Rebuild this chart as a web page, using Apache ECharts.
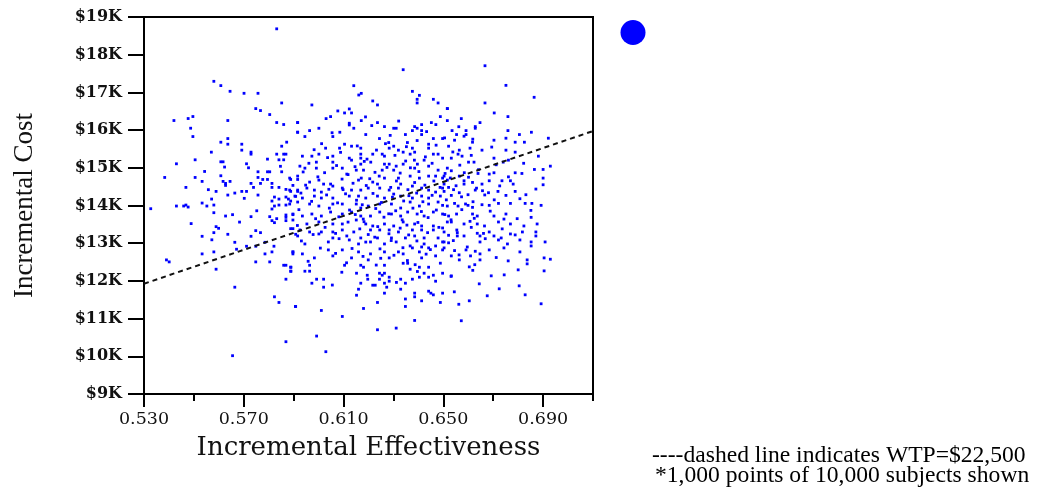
<!DOCTYPE html>
<html>
<head>
<meta charset="utf-8">
<script src="https://cdn.jsdelivr.net/npm/echarts@6/dist/echarts.min.js"></script>
<style>
html,body{margin:0;padding:0;background:#fff;}
#chart{width:1051px;height:496px;}
</style>
</head>
<body>
<div id="chart"></div>
<script>
// Tick labels
const xMajorTicks = [0.53, 0.57, 0.61, 0.65, 0.69];
const xMinorTicks = [0.55, 0.59, 0.63, 0.67, 0.71];
const yTicks = [9000, 10000, 11000, 12000, 13000, 14000, 15000, 16000, 17000, 18000, 19000];
// Willingness-to-pay line
const wtpValue = 22500;
const wtpLineEffectiveness = [0.53, 0.71];
// Simulated points [incremental effectiveness, incremental cost]
const simulatedPoints = [
[0.5832,18686],[0.558,17294],[0.5608,17180],[0.5645,17029],[0.5701,16976],[0.5757,16976],[0.5852,16720],[0.5748,16571],[0.5767,16518],[0.5804,16412],[0.5832,16201],[0.586,16148],[0.5916,16201],[0.5916,15944],[0.542,16254],[0.5477,16307],[0.5496,16360],[0.5636,16254],[0.5487,16050],
[0.6339,17602],[0.6141,17178],[0.6161,16931],[0.6171,16975],[0.6217,16773],[0.6236,16667],[0.6376,17028],[0.6404,16922],[0.6395,16817],[0.6395,16720],[0.646,16817],[0.6479,16720],[0.6516,16570],[0.5973,16667],[0.5916,16199],[0.603,16305],[0.6048,16358],[0.6077,16508],[0.6104,16455],[0.6123,16561],[0.6132,16455],[0.6171,16252],[0.6123,16182],[0.6123,16137],[0.6141,16049],[0.6236,16199],[0.6264,16093],[0.6301,16049],[0.6311,16049],[0.6376,15987],[0.6385,16093],[0.6395,16049],[0.6413,16146],[0.6413,15987],[0.6452,16199],[0.647,16146],[0.6488,16358],[0.6516,16252],[0.5916,15943],[0.5964,15987],[0.6001,16049],[0.6085,15943],[0.6189,15882],[0.6348,15882],[0.6413,15882],
[0.6667,17707],[0.6751,17187],[0.6864,16870],[0.6667,16720],[0.6516,16570],[0.6704,16455],[0.6759,16358],[0.6572,16305],[0.6647,16199],[0.6628,16093],[0.6628,16049],[0.6535,15987],[0.6553,15882],[0.6591,15987],[0.6591,15882],[0.6583,15838],[0.6759,15987],[0.6805,15882],[0.6853,15943],[0.6505,15793],
[0.5496,15829],[0.5608,15679],[0.5636,15776],[0.5636,15626],[0.5692,15626],[0.5692,15468],[0.5729,15415],[0.5729,15362],[0.557,15415],[0.5852,15573],[0.5832,15362],[0.586,15362],[0.5869,15362],[0.5505,15212],[0.543,15106],[0.5608,15159],[0.5617,15159],[0.5711,15106],[0.5719,15000],[0.5841,15212],[0.586,15212],[0.5543,14903],[0.5608,14789],[0.5383,14744],[0.5505,14744],[0.5533,14639],[0.5617,14639],[0.5627,14586],[0.5627,14533],[0.5645,14639],[0.5468,14480],[0.5589,14374],[0.5636,14277],[0.5664,14330],[0.5692,14374],[0.5711,14374],[0.5739,14480],[0.5757,14277],[0.5729,14586],[0.5757,14744],[0.5757,14894],[0.5795,14894],[0.5804,14894],[0.5776,14691],[0.5795,14691],[0.5767,14586],[0.5813,14586],[0.5813,14480],[0.5852,14894],[0.5888,14691],[0.5841,14480],[0.5869,14427],[0.5897,14533],[0.5916,14691],[0.5888,14374],[0.5916,14374],[0.5908,14242],[0.5823,14224],[0.5841,14171],[0.5869,14224],[0.5879,14171],[0.5813,14118],[0.5823,13986],[0.5841,14012],[0.5813,13907],[0.5869,14012],[0.5888,14118],[0.5571,14171],[0.5533,14065],[0.5552,13986],[0.558,14012],[0.543,13986],[0.5459,13986],[0.5468,14012],[0.5477,13959],[0.5327,13915],[0.558,13809],[0.5627,13721],[0.5655,13757],[0.5729,13704],[0.5804,13704],[0.5813,13598],[0.5823,13545],[0.5869,13748],[0.5869,13686],[0.5897,13757],[0.5832,13651],[0.5869,13598],[0.5589,13439],[0.5599,13395],[0.558,13280],[0.5636,13236],[0.5748,13333],[0.5729,13183],[0.5767,13280],[0.5533,13183],[0.5908,13236],[0.5888,13386],[0.5897,13386],[0.5664,13024],[0.5711,12919],[0.5748,12919],[0.5785,13024],[0.5533,12716],[0.558,12769],[0.5785,12716],[0.5813,12769],[0.5897,12769],[0.5897,12716],[0.539,12557],[0.5401,12504],[0.5748,12504],[0.5804,12504],
[0.5589,12310],[0.586,12415],[0.5869,12415],[0.5888,12363],[0.5888,12257],[0.5869,12045],[0.5664,11833],[0.5823,11578],[0.5841,11428],[0.5907,11322],[0.5869,10387],[0.5655,10016],
[0.5964,12415],[0.5889,12363],[0.5889,12257],[0.5945,12257],[0.5964,12257],[0.5992,12045],[0.602,12045],[0.5973,11939],[0.602,11833],[0.6104,12415],[0.6169,12415],[0.618,12363],[0.6152,12204],[0.6264,12415],[0.6339,12468],[0.6357,12468],[0.6367,12310],[0.6404,12363],[0.6441,12363],[0.6423,12204],[0.6441,12098],[0.646,12151],[0.6497,12204],[0.6469,11992],[0.6404,12098],[0.6376,12045],[0.6329,12045],[0.6348,11939],[0.6329,11780],[0.6244,12204],[0.6255,12151],[0.6264,12204],[0.6283,12098],[0.6283,11992],[0.6244,12045],[0.6264,11939],[0.6273,11833],[0.6197,12045],[0.6169,11939],[0.6217,11886],[0.6227,11886],[0.616,11780],[0.6264,11675],[0.6385,11675],[0.6385,11578],[0.6441,11727],[0.645,11675],[0.646,11630],[0.6497,11675],[0.6488,11428],[0.6413,11472],[0.6236,11428],[0.6348,11322],[0.618,11269],[0.5908,11322],[0.6011,11216],[0.6095,11057],[0.6385,10951],[0.6236,10704],[0.6311,10748],[0.5992,10537],[0.6029,10122],
[0.5945,15829],[0.6057,15829],[0.6244,15776],[0.6395,15723],[0.646,15776],[0.6497,15776],[0.6281,15670],[0.6356,15670],[0.6301,15573],[0.6028,15521],[0.6084,15521],[0.6104,15626],[0.6132,15573],[0.6169,15521],[0.6283,15521],[0.632,15468],[0.6339,15415],[0.6376,15521],[0.6385,15415],[0.6441,15521],[0.6441,15626],[0.5935,15309],[0.5973,15309],[0.6001,15362],[0.6057,15309],[0.6123,15256],[0.6169,15362],[0.6169,15256],[0.6217,15362],[0.6255,15362],[0.6264,15309],[0.6367,15362],[0.646,15362],[0.6479,15362],[0.6497,15256],[0.6384,15203],[0.5991,15150],[0.6057,15150],[0.6132,15203],[0.6169,15097],[0.6209,15150],[0.6264,15097],[0.6283,15097],[0.6311,15044],[0.6339,15097],[0.6396,15097],[0.6423,15203],[0.5925,15044],[0.5945,14991],[0.5991,14991],[0.6057,14991],[0.6095,14991],[0.6151,14938],[0.618,14938],[0.6255,14938],[0.6301,14938],[0.6385,14991],[0.6441,15044],[0.6479,14938],[0.6516,14991],
[0.5884,14727],[0.5916,14780],[0.5964,14621],[0.6001,14674],[0.602,14568],[0.6048,14568],[0.6113,14833],[0.616,14674],[0.6171,14727],[0.6217,14621],[0.6236,14568],[0.6264,14727],[0.632,14727],[0.6329,14568],[0.6367,14780],[0.6404,14727],[0.6441,14780],[0.6469,14780],[0.6497,14727],[0.6516,14674],[0.5884,14409],[0.5916,14409],[0.5953,14462],[0.5983,14409],[0.6011,14356],[0.6057,14515],[0.6095,14462],[0.6132,14409],[0.6169,14409],[0.6199,14462],[0.6245,14462],[0.6283,14409],[0.632,14462],[0.6376,14515],[0.6413,14462],[0.6441,14409],[0.6469,14356],[0.6497,14462],
[0.5905,14250],[0.5935,14198],[0.5983,14250],[0.6011,14198],[0.6057,14198],[0.6123,14250],[0.616,14250],[0.6189,14198],[0.6236,14250],[0.6264,14198],[0.6301,14303],[0.6329,14250],[0.6376,14198],[0.6413,14250],[0.6441,14198],[0.6488,14250],[0.5884,14039],[0.5916,14092],[0.5964,14039],[0.6001,13986],[0.6057,14039],[0.6095,14039],[0.6151,14039],[0.6169,13933],[0.6199,13986],[0.6245,14039],[0.6292,14039],[0.6329,13933],[0.6367,14092],[0.6404,13986],[0.6441,14039],[0.6479,14092],[0.6516,13986],
[0.5897,13774],[0.5935,13721],[0.5973,13774],[0.6011,13721],[0.6048,13827],[0.6095,13774],[0.6132,13827],[0.6169,13721],[0.6208,13721],[0.6245,13827],[0.6292,13774],[0.6329,13721],[0.6357,13827],[0.6395,13774],[0.6423,13721],[0.646,13827],[0.6497,13774],[0.5897,13615],[0.5953,13510],[0.6001,13563],[0.6057,13510],[0.6095,13510],[0.6151,13615],[0.6189,13510],[0.6217,13457],[0.6264,13510],[0.6301,13457],[0.6339,13563],[0.6385,13510],[0.6413,13457],[0.646,13457],[0.6516,13563],
[0.5925,13351],[0.5964,13298],[0.6011,13298],[0.6057,13298],[0.6095,13351],[0.6141,13298],[0.6208,13351],[0.6245,13351],[0.6283,13351],[0.632,13298],[0.6376,13351],[0.6413,13351],[0.646,13351],[0.6497,13404],[0.5916,13192],[0.6001,13245],[0.6057,13139],[0.6113,13192],[0.6169,13139],[0.6236,13139],[0.6292,13139],[0.6348,13139],[0.6385,13192],[0.6423,13139],[0.6479,13139],[0.5945,12980],[0.6039,13033],[0.6123,13086],[0.616,12980],[0.6208,13033],[0.6264,12980],[0.6311,13033],[0.6367,12927],[0.6423,12980],[0.6469,12927],[0.6497,13033],
[0.5897,12769],[0.5935,12716],[0.6039,12822],[0.6095,12822],[0.616,12769],[0.6208,12716],[0.6264,12769],[0.632,12769],[0.6376,12875],[0.6404,12769],[0.6441,12875],[0.6497,12822],[0.5983,12610],[0.6057,12663],[0.6132,12610],[0.6199,12557],[0.6283,12610],[0.6339,12716],[0.6413,12610],[0.6469,12663],
[0.6545,15732],[0.6617,15679],[0.6703,15732],[0.6751,15785],[0.6788,15679],[0.6825,15679],[0.6921,15785],[0.6521,15573],[0.6564,15468],[0.6607,15521],[0.6655,15468],[0.6559,15362],[0.6532,15256],[0.6575,15309],[0.6751,15468],[0.6788,15415],[0.6881,15309],[0.6601,15150],[0.6623,15150],[0.6703,15256],[0.674,15150],[0.6761,15203],
[0.6503,14780],[0.6532,14921],[0.6564,14780],[0.6639,14850],[0.6684,14833],[0.6703,14868],[0.6788,14868],[0.6815,14850],[0.6865,14956],[0.69,14956],[0.6929,15044],[0.6503,14568],[0.6521,14480],[0.6551,14524],[0.6583,14656],[0.6583,14568],[0.6617,14612],[0.6655,14568],[0.6684,14656],[0.6735,14656],[0.6769,14656],[0.678,14568],[0.69,14727],[0.69,14550],[0.6871,14436],
[0.6503,14374],[0.6532,14268],[0.6564,14339],[0.6599,14286],[0.6628,14409],[0.6657,14392],[0.6681,14339],[0.6719,14374],[0.6751,14268],[0.6788,14374],[0.6831,14286],[0.6497,14004],[0.6545,14056],[0.6559,13986],[0.6599,14004],[0.6617,13951],[0.6655,14021],[0.6684,14004],[0.6721,14056],[0.6769,14056],[0.6828,14056],[0.6855,14056],[0.6892,14004],
[0.6521,13721],[0.6553,13774],[0.6617,13774],[0.6636,13721],[0.6703,13721],[0.6751,13774],[0.6796,13651],[0.6852,13686],[0.6876,13510],[0.6532,13563],[0.6583,13510],[0.6607,13580],[0.6636,13510],[0.6665,13457],[0.6721,13563],[0.6769,13510],[0.6823,13457],
[0.6503,13298],[0.6521,13210],[0.6556,13280],[0.6556,13192],[0.6583,13192],[0.6636,13263],[0.6647,13192],[0.6684,13298],[0.6703,13192],[0.6769,13245],[0.6817,13298],[0.6871,13298],[0.6871,13192],[0.6503,13033],[0.654,13069],[0.6647,13033],[0.6721,13086],[0.6732,13139],[0.6807,13086],[0.6852,13033],[0.6908,13033],
[0.6503,12875],[0.6545,12804],[0.6591,12822],[0.6628,12786],[0.6684,12822],[0.6743,12875],[0.6807,12769],[0.6852,12927],[0.6532,12663],[0.6609,12663],[0.6647,12716],[0.6647,12557],[0.6836,12557],[0.6929,12575],
[0.6564,12557],[0.6604,12372],[0.6532,12134],[0.6644,11922],[0.6692,12134],[0.6744,12160],[0.68,12293],[0.676,12531],[0.6836,12452],[0.6904,12610],[0.6904,12266],[0.6804,11869],[0.6828,11631],[0.6892,11393],[0.6572,10943],[0.6724,11790],[0.6676,11605],[0.6604,11472],[0.6544,11710],
[0.6012,15640],[0.6088,15410],[0.6155,15580],[0.6232,15470],[0.6306,15330],[0.6352,15560],[0.6428,15290],[0.6471,15600],[0.6538,15420],[0.6612,15330],[0.6694,15550],[0.6036,15270],[0.5982,15480],[0.6194,15230],[0.6268,15640],
[0.5961,15120],[0.6024,14870],[0.6072,15060],[0.6118,14820],[0.6183,15170],[0.6226,14880],[0.6274,15010],[0.6327,14860],[0.6349,15180],[0.6402,14900],[0.6455,15120],[0.6507,14850],[0.6566,15070],[0.6641,14950],[0.6712,15080],[0.5938,14890],[0.6146,15030],[0.6368,15000],[0.6584,14870],[0.6822,15120],
[0.5948,14540],[0.5997,14760],[0.6041,14430],[0.6094,14700],[0.6138,14590],[0.6191,14530],[0.6243,14780],[0.6289,14480],[0.6312,14650],[0.6358,14420],[0.6385,14610],[0.6426,14540],[0.6462,14650],[0.6528,14730],[0.6541,14420],[0.6601,14750],[0.6633,14460],[0.6726,14520],[0.6098,14420],[0.6205,14710],[0.6487,14480],[0.6761,14760],
[0.5929,14330],[0.5972,14110],[0.6032,14280],[0.6076,14070],[0.6108,14310],[0.6152,14140],[0.6218,14320],[0.6252,14080],[0.6296,14220],[0.6341,14120],[0.6393,14330],[0.6418,14100],[0.6455,14270],[0.6512,14150],[0.6573,14230],[0.6619,14100],[0.6666,14280],[0.6704,14150],[0.6175,14020],[0.6362,14260],[0.6589,14040],[0.6807,14180],
[0.5921,13890],[0.5988,13650],[0.6043,13930],[0.6081,13700],[0.6124,13880],[0.6179,13640],[0.6229,13920],[0.6262,13690],[0.6309,13860],[0.6335,13620],[0.6378,13930],[0.6439,13680],[0.6472,13880],[0.6531,13620],[0.6574,13890],[0.6624,13660],[0.6688,13850],[0.6743,13640],[0.6851,13870],[0.6147,13760],[0.6281,13780],[0.6412,13840],[0.6506,13760],
[0.5915,13470],[0.5978,13230],[0.6026,13420],[0.6068,13260],[0.6118,13560],[0.6165,13380],[0.6199,13230],[0.6237,13440],[0.6282,13250],[0.6327,13400],[0.6361,13220],[0.6398,13550],[0.6437,13280],[0.6482,13420],[0.6554,13350],[0.6612,13420],[0.6661,13260],[0.6736,13380],[0.6788,13220],[0.6182,13570],[0.6354,13480],
[0.5931,13060],[0.6007,12870],[0.6082,13120],[0.6134,12860],[0.6189,13030],[0.6246,12850],[0.6291,13070],[0.6338,12880],[0.6394,13060],[0.6448,12830],[0.6521,13010],[0.6596,12900],[0.6668,13120],[0.6757,12980],[0.6225,13160],[0.6413,12900],
[0.5958,12520],[0.6068,12730],[0.6112,12480],[0.6178,12650],[0.6231,12420],[0.6302,12680],[0.6356,12540],[0.6431,12710],[0.6488,12470],[0.6563,12690],[0.6626,12430],[0.6712,12620],[0.6249,12600],[0.6387,12430],
[0.6054,15930],[0.6213,16120],[0.6287,15860],[0.6433,15960],[0.6562,16090],[0.6188,16350],[0.6321,16240],[0.6618,15760],[0.5872,15680],[0.5847,15040],
[0.6093,12230],[0.6195,12150],[0.6312,11960],[0.6396,12250],[0.6531,12120],[0.6618,12280],[0.6152,11620],[0.6348,11520],[0.6055,11890],[0.6562,11380],
[0.5702,14190],[0.5752,13860],[0.5683,13560],[0.5795,15230],[0.5623,15020],[0.5558,14420],[0.5671,12840],[0.5821,12920],[0.5489,13520],[0.5572,13090]
];

const chart = echarts.init(document.getElementById('chart'), null, {renderer: 'canvas'});
const wtpLine = wtpLineEffectiveness.map(e => [e, e * wtpValue]);

const option = {
  backgroundColor: '#ffffff',
  animation: false,
  grid: {left: 144, top: 17, width: 449, height: 377, show: true, borderColor: '#000', borderWidth: 2, backgroundColor: 'transparent', containLabel: false, outerBoundsMode: 'none'},
  legend: {
    show: true, data: ['Simulated'], left: 615, top: 15, icon: 'circle', itemWidth: 26, itemHeight: 25,
    formatter: () => '', selectedMode: false, itemGap: 0,
    itemStyle: {color: '#0000ff', opacity: 1}
  },
  xAxis: [
    {
      type: 'value', min: 0.53, max: 0.71, position: 'bottom',
      name: 'Incremental Effectiveness', nameLocation: 'middle', nameGap: 41,
      nameTextStyle: {fontFamily: 'DejaVu Serif', fontSize: 26, color: '#111'},
      axisLine: {show: true, onZero: false, lineStyle: {color: '#000', width: 2}},
      axisTick: {show: true, length: 13, customValues: xMajorTicks, lineStyle: {color: '#000', width: 2}},
      axisLabel: {show: true, customValues: xMajorTicks, margin: 16, formatter: v => v.toFixed(3), fontFamily: 'DejaVu Serif', fontSize: 17.5, color: '#111'},
      splitLine: {show: false}
    },
    {
      type: 'value', min: 0.53, max: 0.71, position: 'bottom', gridIndex: 0,
      axisLine: {show: false, onZero: false},
      axisTick: {show: true, length: 7, customValues: xMinorTicks, lineStyle: {color: '#000', width: 2}},
      axisLabel: {show: false},
      splitLine: {show: false}
    }
  ],
  yAxis: {
    type: 'value', min: 9000, max: 19000, interval: 1000,
    name: 'Incremental Cost', nameLocation: 'middle', nameGap: 106, nameRotate: 90,
    nameTextStyle: {fontFamily: 'Liberation Serif', fontSize: 27, color: '#111'},
    axisLine: {show: true, onZero: false, lineStyle: {color: '#000', width: 2}},
    axisTick: {show: true, length: 16, customValues: yTicks, lineStyle: {color: '#000', width: 2}},
    axisLabel: {show: true, customValues: yTicks, margin: 22, formatter: v => '$' + Math.round(v / 1000) + 'K', fontFamily: 'DejaVu Serif', fontWeight: 'bold', fontSize: 16, color: '#111'},
    splitLine: {show: false}
  },
  graphic: [
    {type: 'text', left: 652, top: 444, style: {text: '----dashed line indicates WTP=$22,500', font: '23.6px "Liberation Serif"', fill: '#000'}},
    {type: 'text', left: 655, top: 464, style: {text: '*1,000 points of 10,000 subjects shown', font: '23.6px "Liberation Serif"', fill: '#000'}}
  ],
  series: [
    {
      name: 'Simulated', type: 'scatter', xAxisIndex: 0, data: simulatedPoints,
      symbol: 'rect', symbolSize: 2.8, itemStyle: {color: '#0000ff', opacity: 1}, silent: true, z: 2
    },
    {
      name: 'WTP', type: 'line', xAxisIndex: 0, data: wtpLine, showSymbol: false, symbol: 'none',
      lineStyle: {color: '#111', width: 2, type: [5, 4]}, silent: true, z: 3
    }
  ]
};
chart.setOption(option);
</script>
</body>
</html>
